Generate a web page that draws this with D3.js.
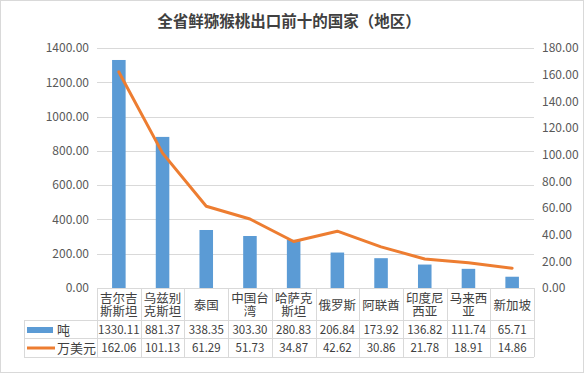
<!DOCTYPE html>
<html>
<head>
<meta charset="utf-8">
<script src="https://cdn.jsdelivr.net/npm/d3@7"></script>
<style>
  body { margin: 0; background: #fff; }
  text { font-family: "Noto Sans CJK SC", "Noto Sans", sans-serif; }
</style>
</head>
<body>
<div id="chart"></div>
<script>
// Data
var countries = ["吉尔吉斯斯坦", "乌兹别克斯坦", "泰国", "中国台湾", "哈萨克斯坦", "俄罗斯", "阿联酋", "印度尼西亚", "马来西亚", "新加坡"];
// how each name wraps in the table cell
var countryLines = [["吉尔吉", "斯斯坦"], ["乌兹别", "克斯坦"], ["泰国"], ["中国台", "湾"], ["哈萨克", "斯坦"],
                    ["俄罗斯"], ["阿联酋"], ["印度尼", "西亚"], ["马来西", "亚"], ["新加坡"]];
var tons = [1330.11, 881.37, 338.35, 303.30, 280.83, 206.84, 173.92, 136.82, 111.74, 65.71];
var usd = [162.06, 101.13, 61.29, 51.73, 34.87, 42.62, 30.86, 21.78, 18.91, 14.86];
var leftTicks = [0, 200, 400, 600, 800, 1000, 1200, 1400];
var rightTicks = [0, 20, 40, 60, 80, 100, 120, 140, 160, 180];

var W = 586, H = 374;
var plot = {left: 97, right: 534, top: 48, bottom: 288};
var rowY = [288, 320, 338, 357];   // table row borders
var legendLeft = 24;

var svg = d3.select("#chart").append("svg")
    .attr("width", W).attr("height", H);

// outer frame
svg.append("rect")
    .attr("x", 0.5).attr("y", 0.5)
    .attr("width", 583).attr("height", 372)
    .attr("fill", "#fff").attr("stroke", "#d9d9d9");

// title
svg.append("text")
    .attr("x", 289).attr("y", 27)
    .attr("text-anchor", "middle")
    .style("font-size", "15.5px").style("font-weight", "bold")
    .style("fill", "#404040")
    .text("全省鲜猕猴桃出口前十的国家（地区）");

// scales
var x = d3.scaleBand().domain(countries).range([plot.left, plot.right]);
var yL = d3.scaleLinear().domain([0, 1400]).range([plot.bottom, plot.top]);
var yR = d3.scaleLinear().domain([0, 180]).range([plot.bottom, plot.top]);

// gridlines
svg.append("g").selectAll("line")
    .data(leftTicks.slice(1))
    .enter().append("line")
    .attr("x1", plot.left).attr("x2", plot.right)
    .attr("y1", function(d) { return Math.round(yL(d)) + 0.5; })
    .attr("y2", function(d) { return Math.round(yL(d)) + 0.5; })
    .attr("stroke", "#d9d9d9");

// left axis
var leftAxis = svg.append("g")
    .attr("transform", "translate(" + (plot.left - 8) + ",0)")
    .call(d3.axisLeft(yL).tickValues(leftTicks).tickFormat(d3.format(".2f")).tickSize(0));
leftAxis.select(".domain").remove();
leftAxis.selectAll("text").attr("x", 0)
    .style("font-size", "12px").style("fill", "#595959")
    .style("font-family", "\"Noto Sans CJK SC\", sans-serif");

// right axis
var rightAxis = svg.append("g")
    .attr("transform", "translate(" + (plot.right + 8) + ",0)")
    .call(d3.axisRight(yR).tickValues(rightTicks).tickFormat(d3.format(".2f")).tickSize(0));
rightAxis.select(".domain").remove();
rightAxis.selectAll("text").attr("x", 0)
    .style("font-size", "12px").style("fill", "#595959")
    .style("font-family", "\"Noto Sans CJK SC\", sans-serif");

// bars
var barW = x.bandwidth() * 0.31;
svg.append("g").selectAll("rect")
    .data(tons)
    .enter().append("rect")
    .attr("x", function(d, i) { return x(countries[i]) + (x.bandwidth() - barW) / 2; })
    .attr("width", barW)
    .attr("y", function(d) { return yL(d); })
    .attr("height", function(d) { return plot.bottom - yL(d); })
    .attr("fill", "#5b9bd5");

// line
var line = d3.line()
    .x(function(d, i) { return x(countries[i]) + x.bandwidth() / 2; })
    .y(function(d) { return yR(d); });
svg.append("path")
    .datum(usd)
    .attr("d", line)
    .attr("fill", "none")
    .attr("stroke", "#ed7d31")
    .attr("stroke-width", 3)
    .attr("stroke-linejoin", "round")
    .attr("stroke-linecap", "round");

// data table
var grid = svg.append("g").attr("stroke", "#d9d9d9").attr("shape-rendering", "crispEdges");
grid.append("line").attr("x1", plot.left).attr("x2", plot.right)
    .attr("y1", rowY[0] + 0.5).attr("y2", rowY[0] + 0.5);
rowY.slice(1).forEach(function(yy) {
  grid.append("line").attr("x1", legendLeft).attr("x2", plot.right)
      .attr("y1", yy + 0.5).attr("y2", yy + 0.5);
});
grid.append("line").attr("x1", legendLeft + 0.5).attr("x2", legendLeft + 0.5)
    .attr("y1", rowY[1]).attr("y2", rowY[3]);
countries.concat([null]).forEach(function(c, i) {
  var xx = c ? x(c) : plot.right;
  grid.append("line").attr("x1", xx + 0.5).attr("x2", xx + 0.5)
      .attr("y1", rowY[0]).attr("y2", rowY[3]);
});

// category names
var cats = svg.append("g").selectAll("text")
    .data(countryLines)
    .enter().append("text")
    .attr("text-anchor", "middle")
    .style("font-size", "12.5px").style("fill", "#404040");
cats.each(function(lines, i) {
  var cx = x(countries[i]) + x.bandwidth() / 2;
  var top = lines.length === 1 ? 309.5 : 303;
  d3.select(this).selectAll("tspan")
      .data(lines)
      .enter().append("tspan")
      .attr("x", cx)
      .attr("y", function(d, j) { return top + j * 13; })
      .text(function(d) { return d; });
});

// value rows
[tons, usd].forEach(function(vals, r) {
  svg.append("g").selectAll("text")
      .data(vals)
      .enter().append("text")
      .attr("x", function(d, i) { return x(countries[i]) + x.bandwidth() / 2; })
      .attr("y", (rowY[r + 1] + rowY[r + 2]) / 2 + 4.5)
      .attr("text-anchor", "middle")
      .style("font-size", "11.5px").style("fill", "#404040")
      .text(function(d) { return d3.format(".2f")(d); });
});

// legend keys inside the table
svg.append("rect")
    .attr("x", 27).attr("y", 327).attr("width", 26).attr("height", 6)
    .attr("fill", "#5b9bd5");
svg.append("line")
    .attr("x1", 27).attr("x2", 55).attr("y1", 348).attr("y2", 348)
    .attr("stroke", "#ed7d31").attr("stroke-width", 3);
svg.append("text").attr("x", 57).attr("y", 334.5)
    .style("font-size", "13px").style("fill", "#404040").text("吨");
svg.append("text").attr("x", 57).attr("y", 352.5)
    .style("font-size", "13px").style("fill", "#404040").text("万美元");
</script>
</body>
</html>
